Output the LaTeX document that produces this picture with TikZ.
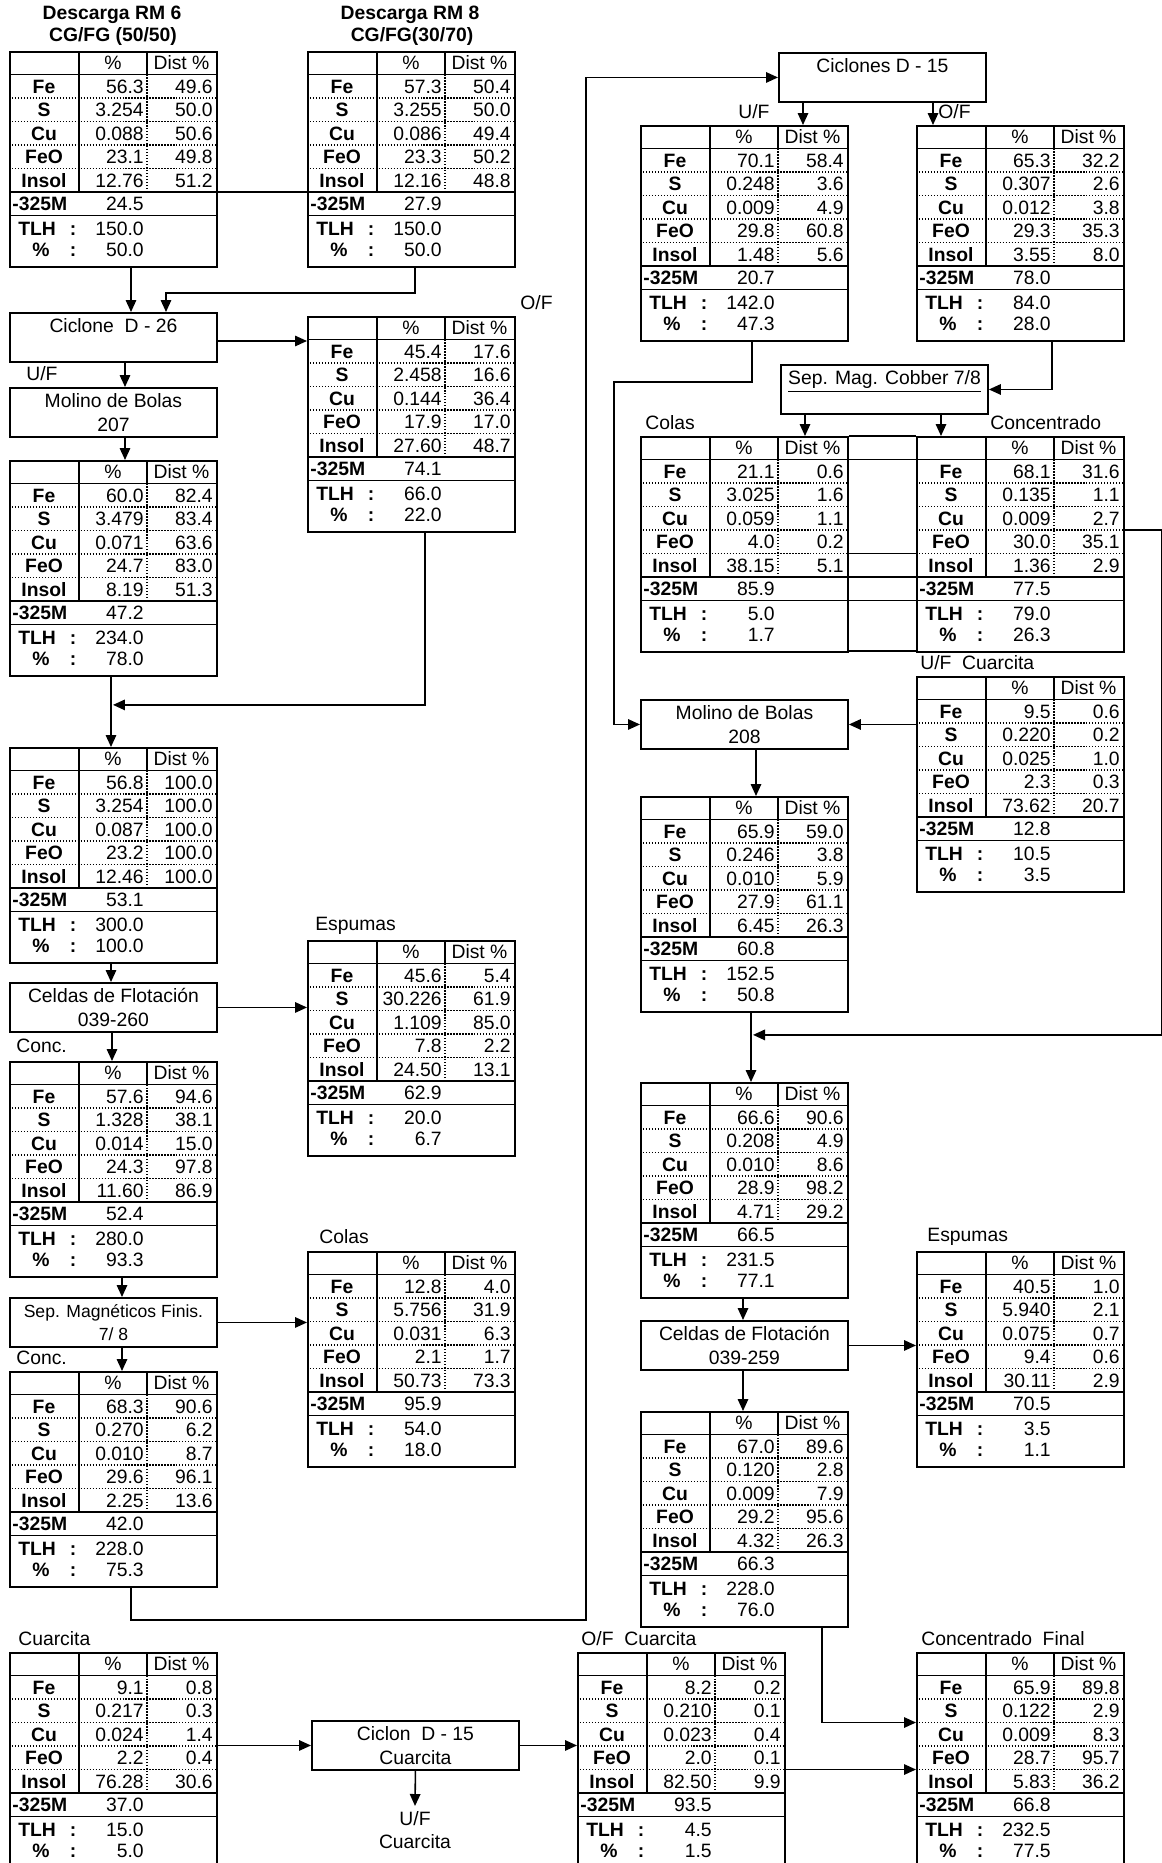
\documentclass[tikz,border=0pt]{standalone}
\usepackage{fontspec}
\setmainfont{Liberation Sans}
\usetikzlibrary{arrows.meta,calc}

\tikzset{
  caja/.style={draw,line width=1.1pt,minimum width=4.14cm,minimum height=0.98cm,anchor=north west,
    align=center,inner sep=0pt,font=\fontsize{11}{13.5}\selectfont},
  tabla/.style={draw,line width=1.1pt,minimum width=4.14cm,minimum height=4.3cm,anchor=north west,inner sep=0pt},
  linea/.style={line width=0.9pt},
  punteado/.style={line width=0.7pt,densely dotted},
  flecha/.style={line width=0.9pt,-{Triangle[length=2.4mm,width=2.1mm]}},
  celda/.style={inner sep=0pt,text height=2.8mm,text depth=0pt,font=\fontsize{11}{13}\selectfont},
  negrita/.style={celda,font=\fontsize{11}{13}\selectfont\bfseries},
  rotulo/.style={inner sep=0pt,anchor=west,font=\fontsize{11}{13}\selectfont},
  titulo/.style={inner sep=0pt,font=\fontsize{11}{13}\selectfont\bfseries}
}

% #1 nombre, #2 esquina, #3 filas %/Dist, #4 -325M, #5 TLH, #6 %
\newcommand{\tabla}[6]{%
  \begin{scope}[shift={(#2)}]
    \node[tabla] (#1) at (0,0) {};
    \draw[linea] (0,23.5) -- (207,23.5) (0,141) -- (207,141) (0,164.5) -- (207,164.5)
      (70,0) -- (70,141) (138,0) -- (138,23.5);
    \draw[punteado] (138,23.5) -- (138,141);
    \foreach \yy in {47,70.5,94,117.5} \draw[punteado] (0,\yy) -- (207,\yy);
    \node[celda] (#1-h1) at (104,11.75) {\%};
    \node[celda] (#1-h2) at (172.5,11.75) {Dist \%};
    \foreach \el [count=\i] in {Fe,S,Cu,FeO,Insol}
      \node[negrita] (#1-e\i) at (35,{11.75+23.5*\i}) {\el};
    \foreach \pc/\di [count=\i] in {#3} {
      \node[celda,anchor=east] (#1-p\i) at (135,{11.75+23.5*\i}) {\pc};
      \node[celda,anchor=east] (#1-d\i) at (204,{11.75+23.5*\i}) {\di};
    }
    \node[negrita,anchor=west] (#1-m) at (3,152.75) {-325M};
    \node[celda,anchor=east] (#1-mv) at (135,152.75) {#4};
    \node[negrita,anchor=west] (#1-t) at (9,177) {TLH};
    \node[negrita] (#1-tc) at (64,177) {:};
    \node[celda,anchor=east] (#1-tv) at (135,177) {#5};
    \node[negrita] (#1-q) at (32,198) {\%};
    \node[negrita] (#1-qc) at (64,198) {:};
    \node[celda,anchor=east] (#1-qv) at (135,198) {#6};
  \end{scope}}

\begin{document}
\begin{tikzpicture}[x=0.02cm,y=-0.02cm]
\useasboundingbox (0,0) rectangle (1162,1863);
\clip (0,0) rectangle (1162,1863);

\node[titulo] (trm6) at (112,15) {Descarga RM 6};
\node[titulo] (trm6b) at (113,37) {CG/FG (50/50)};
\node[titulo] (trm8) at (410,15) {Descarga RM 8};
\node[titulo] (trm8b) at (412,37) {CG/FG(30/70)};

\tabla{rm6}{9,51}{56.3/49.6,3.254/50.0,0.088/50.6,23.1/49.8,12.76/51.2}{24.5}{150.0}{50.0}
\tabla{rm8}{307,51}{57.3/50.4,3.255/50.0,0.086/49.4,23.3/50.2,12.16/48.8}{27.9}{150.0}{50.0}
\tabla{ofd26}{307,316}{45.4/17.6,2.458/16.6,0.144/36.4,17.9/17.0,27.60/48.7}{74.1}{66.0}{22.0}
\tabla{mol207t}{9,460}{60.0/82.4,3.479/83.4,0.071/63.6,24.7/83.0,8.19/51.3}{47.2}{234.0}{78.0}
\tabla{alim}{9,747}{56.8/100.0,3.254/100.0,0.087/100.0,23.2/100.0,12.46/100.0}{53.1}{300.0}{100.0}
\tabla{esp260}{307,940}{45.6/5.4,30.226/61.9,1.109/85.0,7.8/2.2,24.50/13.1}{62.9}{20.0}{6.7}
\tabla{conc260}{9,1061}{57.6/94.6,1.328/38.1,0.014/15.0,24.3/97.8,11.60/86.9}{52.4}{280.0}{93.3}
\tabla{colfin}{307,1251}{12.8/4.0,5.756/31.9,0.031/6.3,2.1/1.7,50.73/73.3}{95.9}{54.0}{18.0}
\tabla{concfin}{9,1371}{68.3/90.6,0.270/6.2,0.010/8.7,29.6/96.1,2.25/13.6}{42.0}{228.0}{75.3}
\tabla{cuar}{9,1652}{9.1/0.8,0.217/0.3,0.024/1.4,2.2/0.4,76.28/30.6}{37.0}{15.0}{5.0}
\tabla{ufd15}{640,125}{70.1/58.4,0.248/3.6,0.009/4.9,29.8/60.8,1.48/5.6}{20.7}{142.0}{47.3}
\tabla{ofd15}{916,125}{65.3/32.2,0.307/2.6,0.012/3.8,29.3/35.3,3.55/8.0}{78.0}{84.0}{28.0}
\tabla{colcob}{640,436}{21.1/0.6,3.025/1.6,0.059/1.1,4.0/0.2,38.15/5.1}{85.9}{5.0}{1.7}
\tabla{concob}{916,436}{68.1/31.6,0.135/1.1,0.009/2.7,30.0/35.1,1.36/2.9}{77.5}{79.0}{26.3}
\tabla{ufcua}{916,676}{9.5/0.6,0.220/0.2,0.025/1.0,2.3/0.3,73.62/20.7}{12.8}{10.5}{3.5}
\tabla{mol208t}{640,796}{65.9/59.0,0.246/3.8,0.010/5.9,27.9/61.1,6.45/26.3}{60.8}{152.5}{50.8}
\tabla{alim259}{640,1082}{66.6/90.6,0.208/4.9,0.010/8.6,28.9/98.2,4.71/29.2}{66.5}{231.5}{77.1}
\tabla{esp259}{916,1251}{40.5/1.0,5.940/2.1,0.075/0.7,9.4/0.6,30.11/2.9}{70.5}{3.5}{1.1}
\tabla{conc259}{640,1411}{67.0/89.6,0.120/2.8,0.009/7.9,29.2/95.6,4.32/26.3}{66.3}{228.0}{76.0}
\tabla{ofcua}{577,1652}{8.2/0.2,0.210/0.1,0.023/0.4,2.0/0.1,82.50/9.9}{93.5}{4.5}{1.5}
\tabla{cfinal}{916,1652}{65.9/89.8,0.122/2.9,0.009/8.3,28.7/95.7,5.83/36.2}{66.8}{232.5}{77.5}

\node[caja] (d26) at (9,312) {Ciclone\ \ D - 26\\\phantom{0}};
\node[caja] (mol207) at (9,387) {Molino de Bolas\\207};
\node[caja] (cel260) at (9,982) {Celdas de Flotación\\039-260};
\node[caja,font=\fontsize{10}{13.5}\selectfont] (sepfin) at (9,1297) {Sep. Magnéticos Finis.\\7/ 8};
\node[caja] (cic15) at (778,52) {Ciclones D - 15\\\phantom{0}};
\node[caja] (cobber) at (780,364) {\underline{Sep. Mag. Cobber 7/8}\\\phantom{0}};
\node[caja] (mol208) at (640,699) {Molino de Bolas\\208};
\node[caja] (cel259) at (640,1320) {Celdas de Flotación\\039-259};
\node[caja] (ciccua) at (311,1720) {Ciclon\ \ D - 15\\Cuarcita};

\node[rotulo] (lofd26) at (520,303) {O/F};
\node[rotulo] (lufd26) at (26,374) {U/F};
\node[rotulo] (lesp260) at (315,926) {Espumas};
\node[rotulo] (lconc260) at (16,1046) {Conc.};
\node[rotulo] (lcolfin) at (319,1237) {Colas};
\node[rotulo] (lconcfin) at (16,1358) {Conc.};
\node[rotulo] (lcuar) at (18,1639) {Cuarcita};
\node[rotulo] (lufd15) at (738,112) {U/F};
\node[rotulo] (lofd15) at (938,112) {O/F};
\node[rotulo] (lcolcob) at (645,423) {Colas};
\node[rotulo] (lconcob) at (990,423) {Concentrado};
\node[rotulo] (lufcua) at (920,663) {U/F\ \ Cuarcita};
\node[rotulo] (lesp259) at (927,1237) {Espumas};
\node[rotulo] (lofcua) at (581,1639) {O/F\ \ Cuarcita};
\node[rotulo] (lcfinal) at (921,1639) {Concentrado\ \ Final};
\node[rotulo,anchor=north,align=center,inner ysep=3pt] (ufcuar) at (415,1806) {U/F\\Cuarcita};

% circuito izquierdo
\draw[flecha] ($(rm6.south west)+(122,0)$) -- ($(d26.north west)+(122,0)$);
\draw[flecha] ($(rm8.south west)+(108,0)$) |- ($(d26.north west)+(157,-19)$) -- ($(d26.north west)+(157,0)$);
\draw[flecha] ($(d26.north east)+(0,29)$) -- ($(ofd26.north west)+(0,25)$);
\draw[flecha] ($(d26.south west)+(116,0)$) -- ($(mol207.north west)+(116,0)$);
\draw[flecha] ($(mol207.south west)+(116,0)$) -- ($(mol207t.north west)+(116,0)$);
\draw[flecha] ($(mol207t.south west)+(102,0)$) -- ($(alim.north west)+(102,0)$);
\draw[flecha] ($(ofd26.south west)+(118,0)$) |- ($(mol207t.south west)+(104,28)$);
\draw[flecha] ($(alim.south west)+(102,0)$) -- ($(cel260.north west)+(102,0)$);
\draw[flecha] (cel260.east) -- (cel260.east -| esp260.west);
\draw[flecha] ($(cel260.south west)+(103,0)$) -- ($(conc260.north west)+(103,0)$);
\draw[flecha] ($(conc260.south west)+(113,0)$) -- ($(sepfin.north west)+(113,0)$);
\draw[flecha] (sepfin.east) -- (sepfin.east -| colfin.west);
\draw[flecha] ($(sepfin.south west)+(113,0)$) -- ($(concfin.north west)+(113,0)$);
\coordinate (codo) at (586,1620);
\draw[flecha] ($(concfin.south west)+(122,0)$) |- (codo) |- (cic15.west);

% circuito derecho
\draw[flecha] ($(cic15.south west)+(25,0)$) -- ($(ufd15.north west)+(163,0)$);
\draw[flecha] ($(cic15.south west)+(155,0)$) -- ($(ofd15.north west)+(17,0)$);
\draw[flecha] ($(ufd15.south west)+(112,0)$) |- ++(-138,40) |- (mol208.west);
\draw[flecha] ($(ofd15.south west)+(136,0)$) |- (cobber.east);
\draw[flecha] ($(cobber.south west)+(25,0)$) -- ($(colcob.north west)+(165,0)$);
\draw[flecha] ($(cobber.south west)+(161,0)$) -- ($(concob.north west)+(25,0)$);
\draw[flecha] ($(concob.north east)+(0,94)$) -- ++(37,0) |- ($(mol208t.south west)+(113,22)$);
\draw[flecha] (mol208.east -| ufcua.west) -- (mol208.east);
\draw[flecha] ($(mol208.south west)+(116,0)$) -- ($(mol208t.north west)+(116,0)$);
\draw[flecha] ($(mol208t.south west)+(111,0)$) -- ($(alim259.north west)+(111,0)$);
\draw[flecha] ($(alim259.south west)+(103,0)$) -- ($(cel259.north west)+(103,0)$);
\draw[flecha] (cel259.east) -- (cel259.east -| esp259.west);
\draw[flecha] ($(cel259.south west)+(103,0)$) -- ($(conc259.north west)+(103,0)$);
\draw[flecha] ($(conc259.south west)+(182,0)$) |- ($(cfinal.north west)+(0,70.5)$);

% cuarcita
\draw[flecha] (ciccua.west -| cuar.east) -- (ciccua.west);
\draw[flecha] (ciccua.east) -- (ciccua.east -| ofcua.west);
\draw[flecha] (ciccua.south) -- (ufcuar.north);
\draw[flecha] ($(ofcua.north east)+(0,117.5)$) -- ($(cfinal.north west)+(0,117.5)$);

\draw[linea] ($(rm6.north east)+(0,141)$) -- ($(rm8.north west)+(0,141)$);
\foreach \yy in {0,23.5,117.5,141,164.5,215}
  \draw[linea] ($(colcob.north east)+(0,\yy)$) -- ($(concob.north west)+(0,\yy)$);
\end{tikzpicture}
\end{document}
